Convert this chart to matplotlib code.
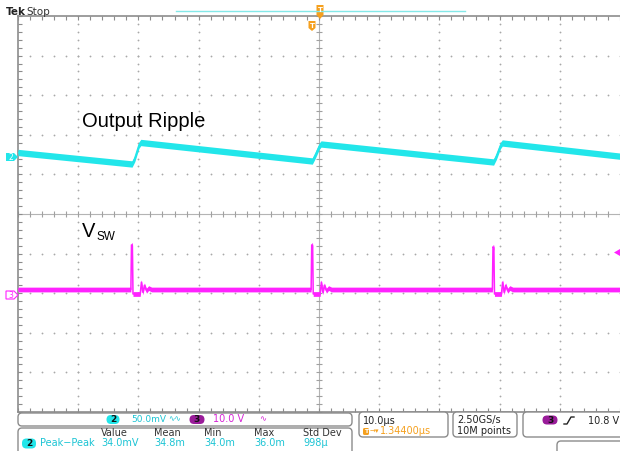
import numpy as np
import matplotlib.pyplot as plt
from matplotlib.patches import FancyBboxPatch, Polygon

# time in microseconds (10 us/div, trigger at centre), level in screen divisions
ripple_t = [-50.0, -31.05, -30.6, -29.9, -29.6, -1.11, -0.66, 0.04, 0.34,
            29.0, 29.45, 30.15, 30.45, 50.0]
ripple_v = [1.553, 1.263, 1.40, 1.74, 1.806, 1.338, 1.47, 1.71, 1.768,
            1.313, 1.45, 1.73, 1.793, 1.46]

vsw_t = [-50.0,
         -31.25, -31.15, -31.00, -30.90, -29.70, -29.50, -29.25, -29.00, -28.65, -28.30, -27.80,
         -1.31, -1.21, -1.06, -0.96, 0.19, 0.39, 0.64, 0.89, 1.24, 1.59, 2.09,
         28.80, 28.90, 29.05, 29.15, 30.30, 30.50, 30.75, 31.00, 31.35, 31.70, 32.20,
         50.0]
vsw_v = [-1.907,
         -1.907, -0.78, -0.80, -2.02, -2.02, -1.72, -1.98, -1.80, -1.94, -1.87, -1.907,
         -1.907, -0.78, -0.80, -2.02, -2.02, -1.72, -1.98, -1.80, -1.94, -1.87, -1.907,
         -1.907, -0.83, -0.85, -2.02, -2.02, -1.72, -1.98, -1.80, -1.94, -1.87, -1.907,
         -1.907]

ch2_scale = "50.0mV"
ch3_scale = "10.0 V"
meas_name = "Peak\u2212Peak"
meas_headers = ["Value", "Mean", "Min", "Max", "Std Dev"]
meas_values = ["34.0mV", "34.8m", "34.0m", "36.0m", "998\u00b5"]
time_scale = "10.0\u00b5s"
trig_delay = "1.34400\u00b5s"
sample_rate = "2.50GS/s"
record_len = "10M points"
trig_level = "10.8 V"

CYAN = '#22e6ea'
CYAN_TXT = '#1cc4d4'
MAG = '#ff22ff'
MAG_TXT = '#d624d6'
PURPLE = '#9a1c9a'
ORANGE = '#f5a01e'
GRID = '#a8a8a8'
EDGE = '#8c8c8c'

W, H = 620, 451
fig = plt.figure(figsize=(W / 100, H / 100), dpi=100)
fig.patch.set_facecolor('white')

# scope screen
ax = fig.add_axes([18 / W, (H - 412) / H, 602 / W, 396 / H])
ax.set_xlim(-50, 50)
ax.set_ylim(-5, 5)
for s in ['top', 'left', 'bottom']:
    ax.spines[s].set_color(EDGE)
    ax.spines[s].set_linewidth(1.2)
ax.spines['right'].set_visible(False)
fine_x = np.arange(-50, 50.1, 2)
fine_y = np.arange(-5, 5.01, 0.2)
ax.set_xticks(fine_x)
ax.set_yticks(fine_y)
ax.tick_params(direction='in', length=3, width=0.8, color=EDGE, top=True,
               right=False, labelbottom=False, labelleft=False)

for gx in range(-40, 41, 10):
    if gx != 0:
        ax.plot(np.full_like(fine_y, gx), fine_y, ls='none', marker='o', ms=1.3,
                mec='none', mfc=GRID, zorder=1)
for gy in range(-4, 5):
    if gy != 0:
        ax.plot(fine_x, np.full_like(fine_x, gy), ls='none', marker='o', ms=1.3,
                mec='none', mfc=GRID, zorder=1)

ax.axhline(0, color='#b4b4b4', lw=0.8, zorder=1)
ax.axvline(0, color='#b4b4b4', lw=0.8, zorder=1)
ax.plot(fine_x, np.zeros_like(fine_x), ls='none', marker='|', ms=5, mew=0.8,
        color='#a0a0a0', zorder=1)
ax.plot(np.zeros_like(fine_y), fine_y, ls='none', marker='_', ms=5, mew=0.8,
        color='#a0a0a0', zorder=1)

rv = np.array(ripple_v)
ax.fill_between(ripple_t, rv - 0.08, rv + 0.08, color=CYAN, lw=0, zorder=3)
ax.plot(ripple_t, ripple_v, color=CYAN, lw=1.2, zorder=3)
sv = np.array(vsw_v)
ax.fill_between(vsw_t, sv - 0.06, sv + 0.06, color=MAG, lw=0, zorder=3)
ax.plot(vsw_t, vsw_v, color=MAG, lw=1.1, zorder=3)

# overlay in pixel coordinates for the scope decorations
ov = fig.add_axes([0, 0, 1, 1], zorder=5)
ov.set_xlim(0, W)
ov.set_ylim(H, 0)
ov.axis('off')

ov.text(6, 12, "Tek", fontsize=7.5, fontweight='bold', color='#222222', va='center')
ov.text(26, 12, "Stop", fontsize=7.5, color='#333333', va='center')
ov.plot([176, 465], [11, 11], color='#84e8e8', lw=1)

# trigger position markers
ov.add_patch(Polygon([(316.5, 5), (323.5, 5), (323.5, 15), (320, 19), (316.5, 15)],
                     closed=True, fc=ORANGE, ec='none'))
ov.text(320, 10.5, "T", fontsize=5, color='white', ha='center', va='center', fontweight='bold')
ov.add_patch(Polygon([(308.5, 21), (315.5, 21), (315.5, 28), (312, 31), (308.5, 28)],
                     closed=True, fc=ORANGE, ec='none'))
ov.text(312, 25.5, "T", fontsize=5, color='white', ha='center', va='center', fontweight='bold')

# channel ground markers
ov.add_patch(Polygon([(6, 153), (14, 153), (18, 157), (14, 161), (6, 161)],
                     closed=True, fc=CYAN, ec='none'))
ov.text(11, 157, "2", fontsize=5.5, color='white', ha='center', va='center')
ov.add_patch(Polygon([(6, 291), (14, 291), (18, 295), (14, 299), (6, 299)],
                     closed=True, fc='white', ec=MAG, lw=0.8))
ov.text(11, 295, "3", fontsize=5.5, color=MAG, ha='center', va='center')
ov.add_patch(Polygon([(620, 249), (614, 252.5), (620, 256)], closed=True, fc=MAG, ec='none'))

# annotations
ov.text(82, 127, "Output Ripple", fontsize=14.5, family='Liberation Sans',
        color='black', va='baseline')
ov.text(82, 237, "V", fontsize=14.5, family='Liberation Sans', color='black', va='baseline')
ov.text(96.5, 240, "SW", fontsize=8.5, family='Liberation Sans', color='black', va='baseline')


def box(x0, y0, x1, y1):
    ov.add_patch(FancyBboxPatch((x0, y0), x1 - x0, y1 - y0,
                                boxstyle='round,pad=0,rounding_size=4',
                                fc='white', ec=EDGE, lw=1, clip_on=False))


def pill(x, y, label, fc, w=13, h=9):
    ov.add_patch(FancyBboxPatch((x - w / 2, y - h / 2), w, h,
                                boxstyle='round,pad=0,rounding_size=4.5',
                                fc=fc, ec='none'))
    ov.text(x, y + 0.3, label, fontsize=6.5, fontweight='bold', color='#111111',
            ha='center', va='center')


fs = 7
box(18, 413, 352, 426)
box(18, 428, 352, 460)
box(359, 412, 448, 437)
box(453, 412, 517, 437)
box(523, 412, 630, 437)
box(557, 441, 630, 470)

pill(113, 419.5, "2", CYAN)
ov.text(131, 419.5, ch2_scale, fontsize=6.5, color=CYAN_TXT, va='center')
ov.text(168, 419, "\u223f\u223f", fontsize=5.5, color=CYAN_TXT, va='center')
pill(197, 419.5, "3", PURPLE, w=15)
ov.text(213, 419.5, ch3_scale, fontsize=fs, color=MAG_TXT, va='center')
ov.text(259, 419, "\u223f", fontsize=6, color=MAG_TXT, va='center')

pill(29, 443.5, "2", CYAN, w=14, h=10)
ov.text(40, 443.5, meas_name, fontsize=fs, color=CYAN_TXT, va='center')
meas_x = [101, 154, 204, 254, 303]
for x, hd, val in zip(meas_x, meas_headers, meas_values):
    ov.text(x, 432.5, hd, fontsize=fs, color='#333333', va='center')
    ov.text(x, 443.5, val, fontsize=fs, color=CYAN_TXT, va='center')

ov.text(363, 420.5, time_scale, fontsize=fs, color='#222222', va='center')
ov.add_patch(FancyBboxPatch((363, 428), 6, 7, boxstyle='round,pad=0,rounding_size=1.5',
                            fc=ORANGE, ec='none'))
ov.text(366, 431.7, "T", fontsize=4.5, color='white', ha='center', va='center', fontweight='bold')
ov.text(369.5, 431.5, "\u2192", fontsize=5, color=ORANGE, va='center')
ov.text(375, 431.5, "\u25be", fontsize=5, color=ORANGE, va='center')
ov.text(380, 431.5, trig_delay, fontsize=fs, color=ORANGE, va='center')

ov.text(457, 420.5, sample_rate, fontsize=fs, color='#222222', va='center')
ov.text(457, 431.5, record_len, fontsize=fs, color='#222222', va='center')

pill(550, 420, "3", PURPLE, w=15)
ov.plot([564, 567, 571, 574], [424, 424, 417, 417], color='#222222', lw=1)
ov.text(588, 420.5, trig_level, fontsize=fs, color='#222222', va='center')

fig.savefig('out.png', dpi=100)
